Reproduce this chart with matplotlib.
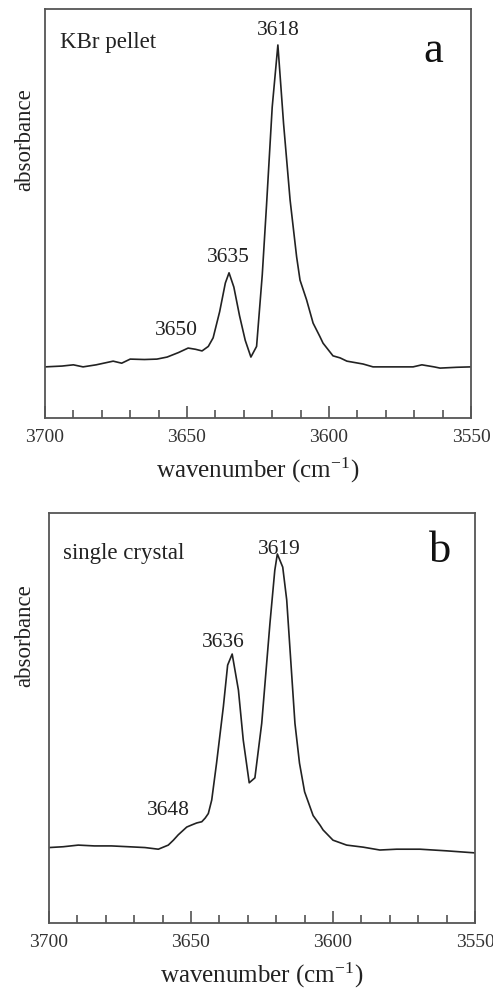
import matplotlib
matplotlib.use("Agg")
import matplotlib.pyplot as plt
from matplotlib.ticker import MultipleLocator

plt.rcParams['font.family'] = ['Liberation Serif', 'DejaVu Serif']
plt.rcParams['mathtext.fontset'] = 'stix'

# Panel a: KBr pellet
wn_a = [3700, 3694, 3690, 3686.6, 3682, 3676, 3673, 3670, 3665, 3660.6, 3657, 3653,
        3649.6, 3647, 3644.7, 3642.5, 3640.8, 3638.5, 3636.5, 3635.2, 3633.5, 3631.5,
        3629.5, 3627.5, 3625.5, 3623.5, 3622, 3620, 3618, 3616, 3613.7, 3611.4, 3610.2,
        3607.9, 3605.6, 3603.2, 3602.1, 3598.6, 3596.1, 3593.7, 3588, 3584.5, 3578,
        3570.4, 3567.3, 3563, 3560.9, 3555, 3550]
abs_a = [0.125, 0.127, 0.130, 0.125, 0.130, 0.139, 0.134, 0.144, 0.143, 0.144, 0.149, 0.160,
         0.171, 0.168, 0.164, 0.175, 0.196, 0.260, 0.330, 0.355, 0.320, 0.250,
         0.190, 0.149, 0.175, 0.350, 0.520, 0.760, 0.912, 0.720, 0.533, 0.394, 0.337,
         0.289, 0.232, 0.199, 0.183, 0.152, 0.147, 0.139, 0.132, 0.125, 0.125,
         0.125, 0.130, 0.125, 0.122, 0.124, 0.125]

# Panel b: single crystal
wn_b = [3700, 3695, 3689.7, 3684, 3678, 3672, 3666.2, 3661.5, 3658, 3656.2, 3654.5, 3651.5,
        3649.8, 3648, 3646.2, 3645, 3643.9, 3642.7, 3641, 3638.6, 3637.1, 3635.5, 3633.3,
        3631.6, 3629.5, 3627.5, 3625.1, 3622.2, 3620.5, 3619.6, 3617.7, 3616.3, 3613.4,
        3611.8, 3610, 3607, 3604.5, 3603.5, 3600, 3595.2, 3589.4, 3583.5, 3577.6, 3569.4,
        3560, 3550]
abs_b = [0.184, 0.186, 0.190, 0.188, 0.188, 0.186, 0.184, 0.180, 0.190, 0.202, 0.215, 0.234,
         0.239, 0.244, 0.247, 0.256, 0.267, 0.300, 0.390, 0.528, 0.629, 0.656, 0.568,
         0.446, 0.342, 0.354, 0.487, 0.731, 0.860, 0.900, 0.868, 0.788, 0.487,
         0.390, 0.320, 0.262, 0.238, 0.227, 0.202, 0.190, 0.185, 0.178, 0.180, 0.180,
         0.176, 0.171]

peak_labels_a = ["3618", "3635", "3650"]
peak_x_a = [3618, 3635.5, 3653.6]
peak_y_a = [0.936, 0.382, 0.203]

peak_labels_b = ["3619", "3636", "3648"]
peak_x_b = [3619, 3638.6, 3658]
peak_y_b = [0.900, 0.674, 0.263]

xticks = [3700, 3650, 3600, 3550]

fig = plt.figure(figsize=(4.93, 9.91), dpi=100)
ax_a = fig.add_axes([45/493, 1-418/991, 426/493, 409/991])
ax_b = fig.add_axes([49/493, 1-923/991, 426/493, 410/991])

panels = [
    (ax_a, wn_a, abs_a, peak_labels_a, peak_x_a, peak_y_a, "KBr pellet", "a", 0.035, 0.904, 0.911, 0.870, -0.047, 0.68),
    (ax_b, wn_b, abs_b, peak_labels_b, peak_x_b, peak_y_b, "single crystal", "b", 0.033, 0.887, 0.918, 0.881, -0.056, 0.70),
]

for ax, wn, ab, labs, px, py, sample, letter, sx, sy, lx, ly, ylx, yly in panels:
    ax.plot(wn, ab, color='#222222', lw=1.2)
    ax.set_xlim(3700, 3550)
    ax.set_ylim(0, 1)
    ax.set_xticks(xticks)
    ax.xaxis.set_minor_locator(MultipleLocator(10))
    ax.set_yticks([])
    ax.tick_params(axis='x', which='major', direction='in', length=9, width=1.1,
                   color='#444444', labelsize=14, labelcolor='#333333', pad=8,
                   top=False)
    ax.tick_params(axis='x', which='minor', direction='in', length=5.5, width=1.1,
                   color='#444444', top=False)
    for sp in ax.spines.values():
        sp.set_color('#555555')
        sp.set_linewidth(1.3)
    for t, x, y in zip(labs, px, py):
        ax.text(x, y, t, ha='center', va='baseline', fontsize=15.5, color='#222222')
    ax.text(sx, sy, sample, transform=ax.transAxes, ha='left', va='baseline',
            fontsize=16.5, color='#222222')
    ax.text(lx, ly, letter, transform=ax.transAxes, ha='center', va='baseline',
            fontsize=32, color='#111111')
    ax.set_xlabel('wavenumber (cm$^{\\mathregular{-1}}$)', fontsize=18,
                  color='#222222', labelpad=7)
    ax.set_ylabel('absorbance', fontsize=16.5, color='#222222')
    ax.yaxis.label.set_va('center')
    ax.yaxis.set_label_coords(ylx, yly)

fig.savefig('out.png', dpi=100)
